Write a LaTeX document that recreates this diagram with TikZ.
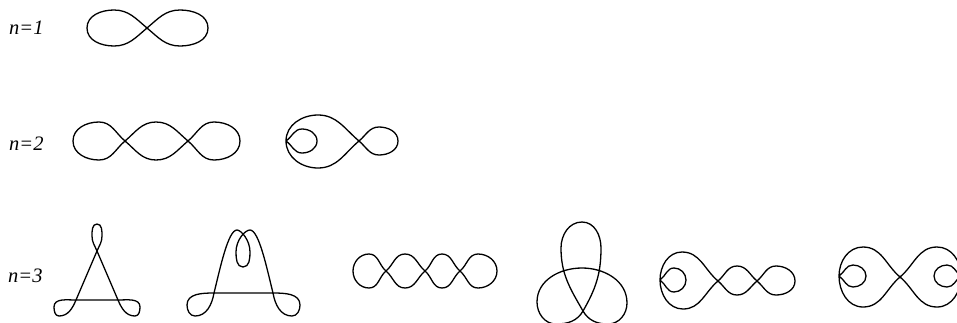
\documentclass[tikz,border=0pt]{standalone}
\usepackage{fontspec}
\setmainfont{Liberation Serif}
\usepackage{tikz}

\begin{document}
\begin{tikzpicture}[x=1pt,y=1pt,
    knot/.style={line width=1.3pt,line join=round},
    lbl/.style={anchor=base west,inner sep=0pt,font=\fontsize{20.5}{24}\selectfont\itshape}]
  \clip (0,0) rectangle (957,-322);
  \node[lbl] (n1) at (9,-34) {n=1};
  \node[lbl] (n2) at (9,-150) {n=2};
  \node[lbl] (n3) at (8,-282) {n=3};
  % n=1
  \draw[knot] (147,-28) to[out=40,in=180] (180,-10) to[out=0,in=90] (208,-28)
    to[out=-90,in=0] (180,-46) to[out=180,in=-40] (147,-28)
    to[out=140,in=0] (114,-10) to[out=180,in=90] (87,-28)
    to[out=-90,in=180] (114,-46) to[out=0,in=-140] (147,-28) -- cycle;
  % n=2
  \draw[knot] (125,-141) to[out=40,in=180] (156,-122) to[out=0,in=140] (188,-141)
    to[out=-40,in=180] (214,-160) to[out=0,in=-90] (240,-141)
    to[out=90,in=0] (214,-122) to[out=180,in=40] (188,-141)
    to[out=-140,in=0] (156,-160) to[out=180,in=-40] (125,-141)
    to[out=140,in=0] (99,-122) to[out=180,in=90] (73,-141)
    to[out=-90,in=180] (99,-160) to[out=0,in=-140] (125,-141) -- cycle;
  \draw[knot] (359,-141) to[out=140,in=0] (318,-115) to[out=180,in=90] (286,-141)
    to[out=-35,in=180] (302,-153) to[out=0,in=-90] (317,-141)
    to[out=90,in=0] (302,-129) to[out=180,in=35] (286,-141)
    to[out=-90,in=180] (318,-168) to[out=0,in=-140] (359,-141)
    to[out=40,in=180] (379,-127) to[out=0,in=90] (398,-141)
    to[out=-90,in=0] (379,-155) to[out=180,in=-40] (359,-141) -- cycle;
  % n=3
  \draw[knot] (76,-300) -- (118,-300) to[out=0,in=90] (140,-307)
    to[out=-90,in=0] (135,-316) to[out=180,in=-67] (118,-300) -- (97,-251)
    to[out=113,in=-90] (92,-236) to[out=90,in=180] (97,-224)
    to[out=0,in=90] (102,-236) to[out=-90,in=67] (97,-251) -- (76,-300)
    to[out=247,in=0] (59,-316) to[out=180,in=-90] (54,-307)
    to[out=90,in=180] (76,-300) -- cycle;
  \draw[knot] (214,-293) -- (273,-293) to[out=0,in=90] (300,-305)
    to[out=-90,in=0] (292,-316) to[out=180,in=-80] (273,-293)
    .. controls (267,-269) and (259,-230) .. (250,-230)
    .. controls (245,-230) and (236,-240) .. (236,-252)
    to[out=-90,in=180] (243,-267) to[out=0,in=-90] (250,-252)
    .. controls (250,-240) and (241,-230) .. (237,-230)
    .. controls (228,-230) and (220,-269) .. (214,-293)
    to[out=-100,in=0] (195,-316) to[out=180,in=-90] (187,-305)
    to[out=90,in=180] (214,-293) -- cycle;
  \draw[knot] (386,-271) to[out=40,in=180] (405,-254) to[out=0,in=140] (425,-271)
    to[out=-40,in=180] (442,-288) to[out=0,in=-140] (460,-271)
    to[out=40,in=180] (478,-254) to[out=0,in=90] (497,-271)
    to[out=-90,in=0] (478,-288) to[out=180,in=-40] (460,-271)
    to[out=140,in=0] (442,-254) to[out=180,in=40] (425,-271)
    to[out=-140,in=0] (405,-288) to[out=180,in=-40] (386,-271)
    to[out=140,in=0] (369,-254) to[out=180,in=90] (353,-271)
    to[out=-90,in=180] (369,-288) to[out=0,in=-140] (386,-271) -- cycle;
  \draw[knot] (582,-222) to[out=0,in=90] (601,-248) to[out=-90,in=60] (583,-311)
    to[out=240,in=0] (556,-324) to[out=180,in=-90] (537,-302)
    to[out=90,in=180] (582,-268) to[out=0,in=90] (627,-303)
    to[out=-90,in=0] (608,-324) to[out=180,in=-60] (583,-311)
    to[out=120,in=-90] (561,-248) to[out=90,in=180] (582,-222) -- cycle;
  \draw[knot] (718,-281) to[out=140,in=0] (682,-252) to[out=180,in=90] (660,-280)
    to[out=-35,in=180] (674,-292) to[out=0,in=-90] (686,-280)
    to[out=90,in=0] (674,-268) to[out=180,in=35] (660,-280)
    to[out=-90,in=180] (683,-309) to[out=0,in=-140] (718,-281)
    to[out=40,in=180] (737,-266) to[out=0,in=140] (757,-281)
    to[out=-40,in=180] (776,-295) to[out=0,in=-90] (795,-281)
    to[out=90,in=0] (776,-266) to[out=180,in=40] (757,-281)
    to[out=-140,in=0] (737,-295) to[out=180,in=-40] (718,-281) -- cycle;
  \draw[knot] (900,-277) to[out=140,in=0] (863,-247) to[out=180,in=90] (839,-276)
    to[out=-35,in=180] (853,-287) to[out=0,in=-90] (866,-276)
    to[out=90,in=0] (853,-265) to[out=180,in=35] (839,-276)
    to[out=-90,in=180] (863,-307) to[out=0,in=-140] (900,-277)
    to[out=40,in=180] (937,-247) to[out=0,in=90] (961,-276)
    to[out=-145,in=0] (947,-287) to[out=180,in=-90] (934,-276)
    to[out=90,in=180] (947,-265) to[out=0,in=145] (961,-276)
    to[out=-90,in=0] (937,-307) to[out=180,in=-40] (900,-277) -- cycle;
\end{tikzpicture}
\end{document}
